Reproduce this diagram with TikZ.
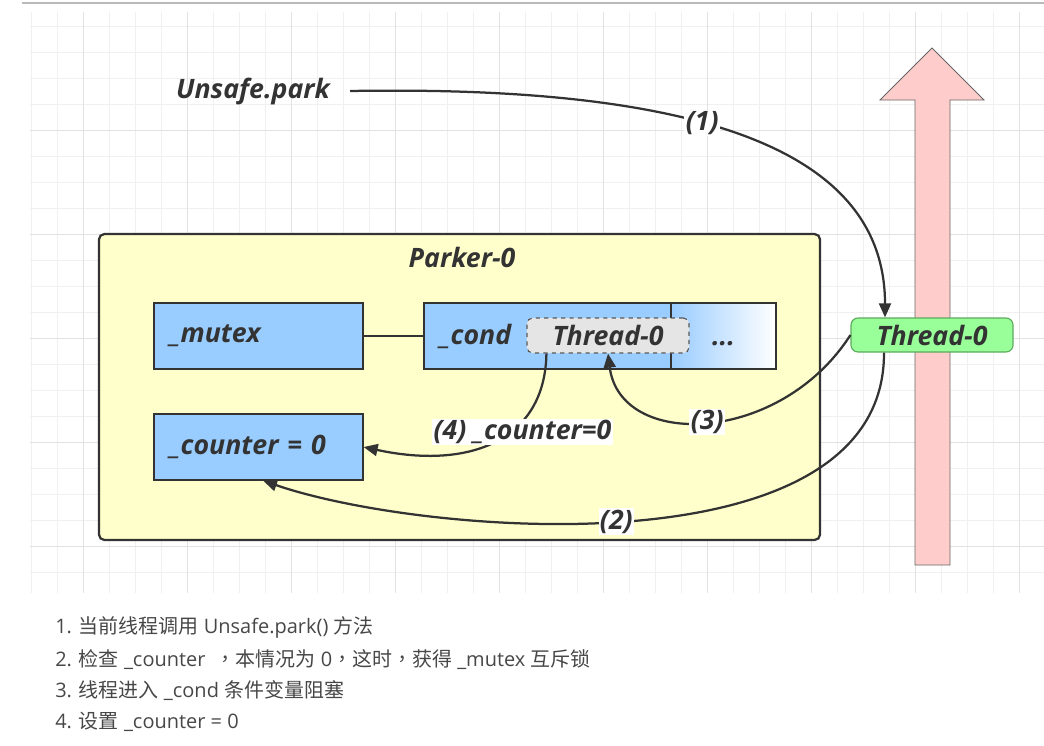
\documentclass[tikz,border=0pt]{standalone}
\usepackage{fontspec}
\setmainfont{Open Sans}
\newfontfamily\cjk{Noto Sans CJK SC}
\newfontfamily\cjktc{Noto Sans CJK TC}
\usetikzlibrary{positioning,arrows.meta,calc}
\definecolor{boxblue}{HTML}{99CCFF}
\definecolor{parkfill}{HTML}{FFFFCC}
\definecolor{pinkfill}{HTML}{FFCCCC}
\definecolor{thrgreen}{HTML}{99FF99}
\definecolor{thrline}{HTML}{5DAA5D}
\definecolor{gridcol}{HTML}{F0F0F0}
\definecolor{gridbold}{HTML}{E2E2E2}
\definecolor{inkcol}{HTML}{333333}
\newcommand{\cma}{{\cjktc ，}}

\begin{document}
\begin{tikzpicture}[x=0.025cm, y=-0.025cm,
    every node/.style={font=\bfseries\itshape\fontsize{19}{21}\selectfont, text=inkcol},
    field/.style={draw=inkcol, fill=boxblue, line width=0.8pt, minimum height=1.65cm, inner xsep=0.4cm, align=left},
    flow/.style={draw=inkcol, line width=1.6pt, -{Triangle[length=10pt,width=8.5pt]}},
    lbl/.style={fill=white, inner sep=1pt},
    listline/.style={font=\normalfont\fontsize{14.2}{16}\selectfont, text=inkcol!90, anchor=west, inner sep=0pt}]
  \useasboundingbox (0,0) rectangle (1044,745);
  % background grid
  \draw[gray!55, line width=0.8pt] (22,3) -- (1044,3);
  \foreach \gx in {31,57,...,1044} \draw[gridcol] (\gx,12) -- (\gx,593);
  \foreach \gy in {26,52,...,592} \draw[gridcol] (30,\gy) -- (1044,\gy);
  \foreach \gx in {83,187,...,1044} \draw[gridbold] (\gx,12) -- (\gx,593);
  \foreach \gy in {130,234,...,592} \draw[gridbold] (30,\gy) -- (1044,\gy);
  % time axis
  \draw[draw=gray!80!black, fill=pinkfill, line width=0.6pt]
    (915,565) -- (915,100) -- (880,100) -- (932,48) -- (984,100) -- (950,100) -- (950,565) -- cycle;

  \node[draw=inkcol, fill=parkfill, line width=1.6pt, rounded corners=4pt,
        minimum width=18.025cm, minimum height=7.65cm] (parker) at (459.5,387) {};
  \node (ptitle) at (462,257) {Parker-0};
  \node[field, text width=4.425cm] (mutex) at (258.5,336) {\_mutex};
  \node[field, text width=4.425cm] (counter) at (258.5,447) {\_counter = 0};
  \node[field, text width=5.375cm] (cond) at (547.5,336) {\_cond};
  \node[draw=inkcol, line width=0.8pt, left color=boxblue, right color=white,
        minimum width=2.625cm, minimum height=1.65cm] (more) at (723.5,336) {\vphantom{T}...};
  \node[draw=gray!70!black, dashed, fill=gray!20, rounded corners=4pt, line width=0.8pt,
        minimum width=4.05cm, minimum height=0.875cm, inner sep=0pt] (waiter) at (608,335.5) {Thread-0};
  \node[inner xsep=0.5cm] (park) at (253,91) {Unsafe.park};
  \node[draw=thrline, fill=thrgreen, rounded corners=5pt, line width=0.8pt,
        minimum width=4.05cm, minimum height=0.85cm, inner sep=0pt] (thread) at (932,335) {Thread-0};

  \draw[inkcol, line width=1.2pt] (mutex) -- (cond);
  \draw[flow] (park.east) .. controls (700,85) and (885,150) ..
    node[lbl, pos=0.42] {(1)} ($(thread.north)+(-47,0)$);
  \draw[flow] ($(thread.south)+(-48,0)$) .. controls (885,575) and (420,535) ..
    node[lbl, pos=0.52] {(2)} ($(counter.south)+(4.5,0)$);
  \draw[flow] (thread.west) .. controls (780,445) and (620,450) ..
    node[lbl, pos=0.5] {(3)} (waiter.south);
  \draw[flow] ($(waiter.south west)+(20,0)$) .. controls (545,440) and (470,470) ..
    node[lbl, pos=0.33, yshift=-8pt] {(4) \_counter=0} (counter.east);

  % notes
  \node[listline] (note1) at (55,627) {1. {\cjk 当前线程调用} Unsafe.park() {\cjk 方法}};
  \node[listline] (note2) at (55,660) {2. {\cjk 检查} \_counter \ \cma{\cjk 本情况为} 0\cma{\cjk 这时}\cma{\cjk 获得} \_mutex {\cjk 互斥锁}};
  \node[listline] (note3) at (55,691) {3. {\cjk 线程进入} \_cond {\cjk 条件变量阻塞}};
  \node[listline] (note4) at (55,722) {4. {\cjk 设置} \_counter = 0};
\end{tikzpicture}
\end{document}
